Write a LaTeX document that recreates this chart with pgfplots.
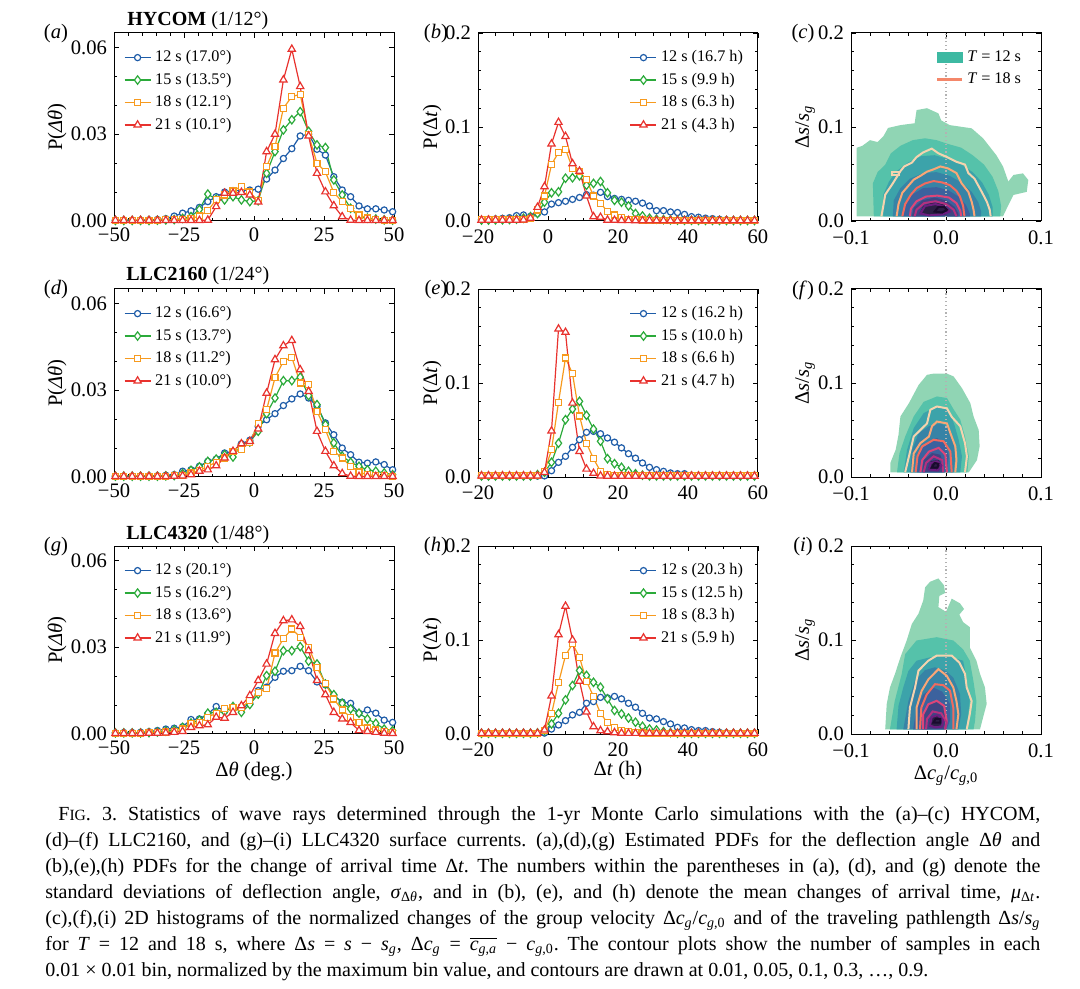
\documentclass[border=0pt]{standalone}
\usepackage{fontspec}
\setmainfont{Liberation Serif}
\usepackage{pgfplots}
\usepackage{pgfplotstable}
\pgfplotsset{compat=1.18}

\definecolor{cB}{HTML}{1E5CA8}
\definecolor{cG}{HTML}{2BAA3A}
\definecolor{cO}{HTML}{F79A1E}
\definecolor{cR}{HTML}{E8322E}
\definecolor{F1}{HTML}{90D5B4}
\definecolor{F2}{HTML}{55C2AA}
\definecolor{F3}{HTML}{3CA3AA}
\definecolor{F4}{HTML}{3783A6}
\definecolor{F5}{HTML}{3C629E}
\definecolor{F6}{HTML}{3F4583}
\definecolor{F7}{HTML}{2C1F45}
\definecolor{L1}{HTML}{F5D3AE}
\definecolor{L2}{HTML}{FAA676}
\definecolor{L3}{HTML}{F26A5E}
\definecolor{L4}{HTML}{DD4579}
\definecolor{L5}{HTML}{B4307F}
\definecolor{L6}{HTML}{6C1D80}
\definecolor{L7}{HTML}{1A0B2E}
\definecolor{cT}{HTML}{3DB9A2}
\definecolor{cS}{HTML}{F4876A}

% ---------------- data ----------------
\pgfplotstableread{
x b g o r
-49.5 0.0003 0.0002 0.0003 0.0002
-46.5 0.0003 0.0002 0.0003 0.0002
-43.5 0.0003 0.0002 0.0003 0.0002
-40.5 0.0003 0.0002 0.0003 0.0002
-37.5 0.0004 0.0002 0.0003 0.0002
-34.5 0.0005 0.0003 0.0003 0.0002
-31.5 0.0008 0.0004 0.0004 0.0002
-28.5 0.0017 0.0005 0.0005 0.0002
-25.5 0.0027 0.0009 0.0006 0.0002
-22.5 0.0035 0.0015 0.0008 0.0002
-19.5 0.0047 0.0040 0.0017 0.0002
-16.5 0.0067 0.0093 0.0036 0.0003
-13.5 0.0084 0.0075 0.0073 0.0050
-10.5 0.0100 0.0073 0.0090 0.0096
-7.5 0.0105 0.0084 0.0104 0.0096
-4.5 0.0105 0.0073 0.0120 0.0099
-1.5 0.0107 0.0067 0.0100 0.0090
1.5 0.0110 0.0070 0.0070 0.0066
4.5 0.0145 0.0165 0.0188 0.0240
7.5 0.0176 0.0240 0.0257 0.0300
10.5 0.0216 0.0315 0.0390 0.0488
13.5 0.0250 0.0350 0.0430 0.0594
16.5 0.0294 0.0378 0.0438 0.0465
19.5 0.0300 0.0310 0.0298 0.0294
22.5 0.0248 0.0263 0.0200 0.0165
25.5 0.0228 0.0254 0.0170 0.0101
28.5 0.0153 0.0142 0.0098 0.0053
31.5 0.0107 0.0090 0.0067 0.0015
34.5 0.0084 0.0044 0.0044 0.0003
37.5 0.0052 0.0015 0.0021 0.0002
40.5 0.0042 0.0010 0.0010 0.0002
43.5 0.0042 0.0007 0.0004 0.0002
46.5 0.0038 0.0004 0.0003 0.0002
49.5 0.0032 0.0003 0.0003 0.0002
}\tA

\pgfplotstableread{
x b g o r
-19 0.0015 0.0010 0.0012 0.0010
-17 0.0018 0.0010 0.0012 0.0010
-15 0.0022 0.0012 0.0013 0.0010
-13 0.0028 0.0013 0.0014 0.0010
-11 0.0035 0.0016 0.0015 0.0010
-9 0.0057 0.0020 0.0016 0.0010
-7 0.0064 0.0030 0.0020 0.0012
-5 0.0050 0.0046 0.0030 0.0030
-3 0.0080 0.0080 0.0117 0.0146
-1 0.0096 0.0200 0.0266 0.0366
1 0.0180 0.0300 0.0600 0.0820
3 0.0195 0.0310 0.0730 0.1050
5 0.0210 0.0455 0.0764 0.0900
7 0.0230 0.0460 0.0560 0.0610
9 0.0250 0.0480 0.0526 0.0530
11 0.0280 0.0380 0.0440 0.0266
13 0.0275 0.0400 0.0266 0.0046
15 0.0305 0.0420 0.0190 0.0040
17 0.0260 0.0300 0.0100 0.0010
19 0.0240 0.0220 0.0064 0.0008
21 0.0230 0.0200 0.0040 0.0006
23 0.0220 0.0160 0.0020 0.0005
25 0.0210 0.0080 0.0012 0.0004
27 0.0190 0.0053 0.0010 0.0004
29 0.0160 0.0030 0.0008 0.0004
31 0.0110 0.0020 0.0006 0.0004
33 0.0110 0.0015 0.0005 0.0004
35 0.0096 0.0012 0.0005 0.0004
37 0.0090 0.0010 0.0005 0.0004
39 0.0070 0.0008 0.0005 0.0004
41 0.0046 0.0008 0.0005 0.0004
43 0.0040 0.0007 0.0005 0.0004
45 0.0030 0.0007 0.0005 0.0004
47 0.0025 0.0007 0.0005 0.0004
49 0.0018 0.0007 0.0005 0.0004
51 0.0012 0.0006 0.0005 0.0004
53 0.0010 0.0006 0.0005 0.0004
55 0.0008 0.0006 0.0005 0.0004
57 0.0007 0.0006 0.0005 0.0004
59 0.0006 0.0006 0.0005 0.0004
}\tB

\pgfplotstableread{
x b g o r
-49.5 0.0003 0.0003 0.0003 0.0002
-46.5 0.0003 0.0003 0.0003 0.0002
-43.5 0.0003 0.0003 0.0003 0.0002
-40.5 0.0003 0.0003 0.0003 0.0002
-37.5 0.0004 0.0003 0.0003 0.0002
-34.5 0.0004 0.0003 0.0003 0.0002
-31.5 0.0006 0.0004 0.0003 0.0002
-28.5 0.0008 0.0005 0.0004 0.0003
-25.5 0.0020 0.0012 0.0006 0.0004
-22.5 0.0025 0.0023 0.0014 0.0008
-19.5 0.0037 0.0035 0.0022 0.0020
-16.5 0.0054 0.0054 0.0037 0.0025
-13.5 0.0062 0.0062 0.0051 0.0039
-10.5 0.0083 0.0077 0.0066 0.0066
-7.5 0.0089 0.0069 0.0089 0.0089
-4.5 0.0115 0.0112 0.0095 0.0115
-1.5 0.0127 0.0121 0.0120 0.0123
1.5 0.0175 0.0158 0.0185 0.0166
4.5 0.0198 0.0219 0.0233 0.0290
7.5 0.0219 0.0273 0.0343 0.0406
10.5 0.0247 0.0333 0.0400 0.0454
13.5 0.0270 0.0333 0.0414 0.0472
16.5 0.0287 0.0345 0.0325 0.0371
19.5 0.0273 0.0281 0.0320 0.0296
22.5 0.0245 0.0250 0.0227 0.0158
25.5 0.0187 0.0181 0.0164 0.0089
28.5 0.0146 0.0118 0.0089 0.0039
31.5 0.0100 0.0072 0.0066 0.0012
34.5 0.0077 0.0051 0.0037 0.0003
37.5 0.0051 0.0037 0.0017 0.0002
40.5 0.0048 0.0025 0.0008 0.0002
43.5 0.0052 0.0020 0.0005 0.0002
46.5 0.0043 0.0014 0.0005 0.0002
49.5 0.0025 0.0008 0.0003 0.0002
}\tD

\pgfplotstableread{
x b g o r
-19 0.0010 0.0012 0.0012 0.0012
-17 0.0010 0.0012 0.0012 0.0012
-15 0.0010 0.0012 0.0012 0.0012
-13 0.0010 0.0012 0.0012 0.0012
-11 0.0010 0.0012 0.0012 0.0012
-9 0.0010 0.0012 0.0012 0.0012
-7 0.0010 0.0012 0.0012 0.0012
-5 0.0010 0.0012 0.0012 0.0012
-3 0.0010 0.0025 0.0015 0.0012
-1 0.0012 0.0050 0.0057 0.0050
1 0.0067 0.0156 0.0290 0.0490
3 0.0156 0.0360 0.0794 0.1575
5 0.0220 0.0610 0.1266 0.1540
7 0.0316 0.0723 0.1100 0.0787
9 0.0397 0.0805 0.0650 0.0273
11 0.0475 0.0656 0.0360 0.0085
13 0.0486 0.0510 0.0195 0.0040
15 0.0460 0.0380 0.0060 0.0012
17 0.0415 0.0195 0.0025 0.0010
19 0.0370 0.0142 0.0015 0.0010
21 0.0310 0.0103 0.0012 0.0010
23 0.0248 0.0060 0.0012 0.0010
25 0.0200 0.0035 0.0012 0.0010
27 0.0149 0.0020 0.0012 0.0010
29 0.0103 0.0012 0.0012 0.0010
31 0.0078 0.0012 0.0012 0.0010
33 0.0060 0.0012 0.0012 0.0010
35 0.0043 0.0012 0.0012 0.0010
37 0.0035 0.0012 0.0012 0.0010
39 0.0035 0.0012 0.0012 0.0010
41 0.0018 0.0012 0.0012 0.0010
43 0.0015 0.0012 0.0012 0.0010
45 0.0013 0.0012 0.0012 0.0010
47 0.0012 0.0012 0.0012 0.0010
49 0.0012 0.0012 0.0012 0.0010
51 0.0012 0.0012 0.0012 0.0010
53 0.0012 0.0012 0.0012 0.0010
55 0.0012 0.0012 0.0012 0.0010
57 0.0012 0.0012 0.0012 0.0010
59 0.0012 0.0012 0.0012 0.0010
}\tE

\pgfplotstableread{
x b g o r
-49.5 0.0004 0.0004 0.0003 0.0002
-46.5 0.0005 0.0004 0.0003 0.0002
-43.5 0.0005 0.0004 0.0003 0.0002
-40.5 0.0006 0.0004 0.0003 0.0002
-37.5 0.0008 0.0005 0.0004 0.0003
-34.5 0.0012 0.0007 0.0005 0.0003
-31.5 0.0017 0.0010 0.0007 0.0004
-28.5 0.0020 0.0014 0.0010 0.0006
-25.5 0.0025 0.0023 0.0017 0.0009
-22.5 0.0050 0.0038 0.0035 0.0023
-19.5 0.0052 0.0048 0.0040 0.0029
-16.5 0.0069 0.0072 0.0058 0.0032
-13.5 0.0095 0.0075 0.0072 0.0058
-10.5 0.0080 0.0077 0.0087 0.0055
-7.5 0.0092 0.0095 0.0092 0.0075
-4.5 0.0087 0.0075 0.0092 0.0098
-1.5 0.0106 0.0102 0.0115 0.0133
1.5 0.0150 0.0138 0.0144 0.0185
4.5 0.0162 0.0202 0.0156 0.0242
7.5 0.0196 0.0217 0.0280 0.0348
10.5 0.0217 0.0288 0.0330 0.0392
13.5 0.0219 0.0288 0.0363 0.0395
16.5 0.0234 0.0302 0.0335 0.0372
19.5 0.0219 0.0252 0.0300 0.0288
22.5 0.0180 0.0242 0.0230 0.0185
25.5 0.0170 0.0173 0.0175 0.0136
28.5 0.0133 0.0136 0.0121 0.0075
31.5 0.0110 0.0106 0.0083 0.0052
34.5 0.0106 0.0087 0.0058 0.0040
37.5 0.0072 0.0072 0.0040 0.0012
40.5 0.0083 0.0052 0.0021 0.0009
43.5 0.0072 0.0037 0.0014 0.0006
46.5 0.0048 0.0017 0.0009 0.0003
49.5 0.0040 0.0012 0.0006 0.0002
}\tG

\pgfplotstableread{
x b g o r
-19 0.0008 0.0008 0.0008 0.0008
-17 0.0008 0.0008 0.0008 0.0008
-15 0.0008 0.0008 0.0008 0.0008
-13 0.0008 0.0008 0.0008 0.0008
-11 0.0008 0.0008 0.0008 0.0008
-9 0.0008 0.0008 0.0008 0.0008
-7 0.0008 0.0008 0.0008 0.0008
-5 0.0008 0.0008 0.0008 0.0008
-3 0.0008 0.0012 0.0008 0.0008
-1 0.0010 0.0036 0.0036 0.0043
1 0.0053 0.0107 0.0214 0.0406
3 0.0096 0.0220 0.0544 0.1057
5 0.0142 0.0363 0.0836 0.1360
7 0.0203 0.0516 0.0960 0.1000
9 0.0230 0.0676 0.0818 0.0562
11 0.0327 0.0623 0.0562 0.0235
13 0.0345 0.0550 0.0400 0.0078
15 0.0390 0.0498 0.0220 0.0036
17 0.0384 0.0374 0.0120 0.0025
19 0.0400 0.0250 0.0071 0.0015
21 0.0374 0.0214 0.0036 0.0010
23 0.0327 0.0170 0.0025 0.0008
25 0.0285 0.0125 0.0012 0.0008
27 0.0220 0.0082 0.0010 0.0008
29 0.0170 0.0053 0.0008 0.0008
31 0.0160 0.0043 0.0008 0.0008
33 0.0132 0.0025 0.0008 0.0008
35 0.0107 0.0015 0.0008 0.0008
37 0.0071 0.0010 0.0008 0.0008
39 0.0064 0.0008 0.0008 0.0008
41 0.0046 0.0008 0.0008 0.0008
43 0.0036 0.0008 0.0008 0.0008
45 0.0036 0.0008 0.0008 0.0008
47 0.0025 0.0008 0.0008 0.0008
49 0.0018 0.0008 0.0008 0.0008
51 0.0012 0.0008 0.0008 0.0008
53 0.0008 0.0008 0.0008 0.0008
55 0.0008 0.0008 0.0008 0.0008
57 0.0008 0.0008 0.0008 0.0008
59 0.0008 0.0008 0.0008 0.0008
}\tH

% ---------------- styles ----------------
\pgfplotsset{
  base/.style={scale only axis, anchor=north west,
    scaled x ticks=false, scaled y ticks=false,
    axis line style={line width=0.5pt},
    every tick/.style={black, line width=0.4pt},
    major tick length=2.6pt, minor tick length=1.4pt,
    tick align=inside,
    tick label style={font=\fontsize{10.3}{12}\selectfont},
    label style={font=\fontsize{10.3}{12}\selectfont},
  },
  leg/.style={legend cell align=left,
    legend style={draw=none, fill=none, font=\fontsize{8.1}{9}\selectfont,
      inner sep=0pt, outer sep=0pt, row sep=0pt,
      nodes={inner ysep=2.05pt, inner xsep=2pt}},
    legend image code/.code={\draw[mark repeat=2,mark phase=2,##1] plot coordinates {(0pt,0pt) (6.5pt,0pt) (13pt,0pt)};},
  },
  pdfA/.style={base, leg, width=140pt, height=94pt,
    xmin=-50, xmax=50, ymin=0, ymax=0.065,
    xtick={-50,-25,0,25,50}, xticklabels={−50,−25,0,25,50},
    ytick={0,0.03,0.06}, yticklabels={0.00,0.03,0.06},
    minor x tick num=4, minor y tick num=2,
    ylabel={P(\textit{Δθ})},
    ylabel style={at={(axis description cs:-0.2036,0.5)}, anchor=center},
    legend style={at={(axis description cs:0,1)}, anchor=north west, xshift=5pt, yshift=-6.7pt},
  },
  pdfB/.style={base, leg, width=140pt, height=94pt,
    xmin=-20, xmax=60, ymin=0, ymax=0.2,
    xtick={-20,0,20,40,60}, xticklabels={−20,0,20,40,60},
    xticklabel style={yshift=-1pt},
    ytick={0,0.1,0.2}, yticklabels={0.0,0.1,0.2},
    minor x tick num=3, minor y tick num=4,
    ylabel={P(Δ\textit{t})},
    ylabel style={at={(axis description cs:-0.164,0.5)}, anchor=center},
    legend style={at={(axis description cs:1,1)}, anchor=north east, xshift=-5.5pt, yshift=-6.7pt},
  },
  hist/.style={base, leg, width=95pt, height=94pt,
    xmin=-0.1, xmax=0.1, ymin=0, ymax=0.2,
    xtick={-0.1,0,0.1}, xticklabels={−0.1,0.0,0.1},
    xticklabel style={yshift=-1.6pt},
    ytick={0,0.1,0.2}, yticklabels={0.0,0.1,0.2},
    minor x tick num=4, minor y tick num=4,
    ylabel={Δ\textit{s}/\textit{s}\textsubscript{\textit{g}}},
    ylabel style={at={(axis description cs:-0.242,0.5)}, anchor=center},
    legend style={at={(axis description cs:1,1)}, anchor=north east, xshift=-8pt, yshift=-6.7pt},
  },
  s12/.style={cB, line width=0.6pt, mark=*, mark size=1.55pt, mark options={fill=white, line width=0.6pt, solid}},
  s15/.style={cG, line width=0.6pt, mark=diamond*, mark size=2.1pt, mark options={fill=white, line width=0.6pt, solid}},
  s18/.style={cO, line width=0.6pt, mark=square*, mark size=1.5pt, mark options={fill=white, line width=0.6pt, solid}},
  s21/.style={cR, line width=0.6pt, mark=triangle*, mark size=2.1pt, mark options={fill=white, line width=0.6pt, solid}},
  fl/.style={forget plot, fill=#1, draw=none},
  cl/.style={forget plot, #1, line width=1.0pt},
  zl/.style={forget plot, black!30, line width=0.6pt, dash pattern=on 0.6pt off 1.3pt},
}

\newcommand{\histlegend}{%
  \addlegendimage{legend image code/.code={\fill[cT] (0pt,-2.6pt) rectangle (12.5pt,2.6pt);}}
  \addlegendentry{\textit{T} = 12 s}
  \addlegendimage{legend image code/.code={\draw[cS, line width=1.2pt] (0pt,0pt) -- (12.5pt,0pt);}}
  \addlegendentry{\textit{T} = 18 s}
}

\begin{document}
\begin{tikzpicture}
\path[use as bounding box] (0pt,0pt) rectangle (540pt,-494.5pt);

% ===== row 1 =====
\begin{axis}[pdfA, at={(57pt,-16.5pt)}]
\addplot[s12] table[x=x,y=b]{\tA}; \addlegendentry{12 s (17.0°)}
\addplot[s15] table[x=x,y=g]{\tA}; \addlegendentry{15 s (13.5°)}
\addplot[s18] table[x=x,y=o]{\tA}; \addlegendentry{18 s (12.1°)}
\addplot[s21] table[x=x,y=r]{\tA}; \addlegendentry{21 s (10.1°)}
\end{axis}

\begin{axis}[pdfB, at={(239pt,-16.5pt)}]
\addplot[s12] table[x=x,y=b]{\tB}; \addlegendentry{12 s (16.7 h)}
\addplot[s15] table[x=x,y=g]{\tB}; \addlegendentry{15 s (9.9 h)}
\addplot[s18] table[x=x,y=o]{\tB}; \addlegendentry{18 s (6.3 h)}
\addplot[s21] table[x=x,y=r]{\tB}; \addlegendentry{21 s (4.3 h)}
\end{axis}

\begin{axis}[hist, at={(425.5pt,-16.5pt)}]
\histlegend
\addplot[fl=F1] coordinates {(-0.094,0.005) (-0.094,0.078) (-0.088,0.080) (-0.080,0.086) (-0.072,0.084) (-0.066,0.090) (-0.061,0.099) (-0.048,0.102) (-0.033,0.104) (-0.031,0.118) (-0.020,0.120) (-0.008,0.1145) (-0.005,0.107) (0.004,0.102) (0.027,0.0986) (0.039,0.088) (0.053,0.070) (0.060,0.058) (0.0656,0.042) (0.071,0.049) (0.081,0.0507) (0.0866,0.0436) (0.085,0.031) (0.071,0.0277) (0.064,0.0135) (0.060,0.005)} -- cycle;
\addplot[fl=F2] coordinates {(-0.076,0.005) (-0.077,0.040) (-0.072,0.052) (-0.064,0.060) (-0.058,0.072) (-0.048,0.080) (-0.035,0.086) (-0.022,0.088) (-0.010,0.086) (0.002,0.082) (0.016,0.078) (0.028,0.070) (0.040,0.060) (0.049,0.047) (0.055,0.032) (0.058,0.016) (0.057,0.005)} -- cycle;
\addplot[fl=F3] coordinates {(-0.066,0.005) (-0.066,0.028) (-0.060,0.042) (-0.052,0.053) (-0.040,0.062) (-0.026,0.069) (-0.012,0.070) (0.002,0.066) (0.016,0.060) (0.028,0.052) (0.038,0.041) (0.045,0.028) (0.049,0.015) (0.049,0.005)} -- cycle;
\addplot[fl=F4] coordinates {(-0.056,0.005) (-0.055,0.022) (-0.048,0.035) (-0.038,0.045) (-0.024,0.051) (-0.010,0.052) (0.004,0.048) (0.016,0.041) (0.027,0.031) (0.034,0.020) (0.037,0.010) (0.037,0.005)} -- cycle;
\addplot[fl=F5] coordinates {(-0.046,0.005) (-0.044,0.017) (-0.036,0.028) (-0.024,0.035) (-0.010,0.036) (0.002,0.033) (0.013,0.026) (0.021,0.017) (0.025,0.008) (0.025,0.005)} -- cycle;
\addplot[fl=F6] coordinates {(-0.036,0.005) (-0.034,0.014) (-0.025,0.022) (-0.012,0.025) (0.000,0.022) (0.009,0.015) (0.013,0.008) (0.013,0.005)} -- cycle;
\addplot[fl=F7] coordinates {(-0.028,0.008) (-0.024,0.016) (-0.014,0.020) (-0.003,0.018) (0.003,0.012) (0.000,0.007) (-0.014,0.006)} -- cycle;
\addplot[zl] coordinates {(0,0) (0,0.2)};
\addplot[cl=L1] coordinates {(-0.068,0.005) (-0.066,0.016) (-0.064,0.028) (-0.056,0.040) (-0.048,0.053) (-0.044,0.058) (-0.036,0.062) (-0.031,0.068) (-0.024,0.073) (-0.015,0.077) (-0.008,0.072) (0.001,0.068) (0.011,0.063) (0.020,0.060) (0.0235,0.051) (0.030,0.045) (0.0376,0.031) (0.043,0.0205) (0.046,0.012) (0.047,0.005)};
\addplot[cl=L1] coordinates {(-0.057,0.049) (-0.049,0.049) (-0.049,0.052) (-0.057,0.052)} -- cycle;
\addplot[cl=L2] coordinates {(-0.052,0.005) (-0.050,0.018) (-0.046,0.030) (-0.040,0.037) (-0.034,0.044) (-0.027,0.048) (-0.020,0.0525) (-0.013,0.055) (-0.006,0.058) (0.002,0.056) (0.011,0.051) (0.0165,0.040) (0.0235,0.031) (0.027,0.0205) (0.029,0.012) (0.030,0.005)};
\addplot[cl=L3] coordinates {(-0.046,0.005) (-0.043,0.018) (-0.037,0.028) (-0.031,0.035) (-0.022,0.040) (-0.013,0.0425) (-0.004,0.041) (0.0042,0.038) (0.011,0.032) (0.0147,0.026) (0.018,0.016) (0.0194,0.005)};
\addplot[cl=L4] coordinates {(-0.038,0.005) (-0.037,0.013) (-0.031,0.021) (-0.021,0.026) (-0.009,0.027) (0.003,0.025) (0.011,0.019) (0.015,0.011) (0.016,0.005)};
\addplot[cl=L5] coordinates {(-0.033,0.005) (-0.031,0.012) (-0.023,0.019) (-0.011,0.021) (0.000,0.018) (0.008,0.012) (0.011,0.005)};
\addplot[cl=L6] coordinates {(-0.027,0.008) (-0.022,0.016) (-0.011,0.018) (-0.001,0.015) (0.004,0.010) (-0.004,0.007) (-0.018,0.006)} -- cycle;
\addplot[cl=L7] coordinates {(-0.012,0.010) (-0.008,0.015) (-0.002,0.015) (0.001,0.012) (-0.004,0.009)} -- cycle;
\end{axis}

% ===== row 2 =====
\begin{axis}[pdfA, at={(57pt,-144.5pt)}]
\addplot[s12] table[x=x,y=b]{\tD}; \addlegendentry{12 s (16.6°)}
\addplot[s15] table[x=x,y=g]{\tD}; \addlegendentry{15 s (13.7°)}
\addplot[s18] table[x=x,y=o]{\tD}; \addlegendentry{18 s (11.2°)}
\addplot[s21] table[x=x,y=r]{\tD}; \addlegendentry{21 s (10.0°)}
\end{axis}

\begin{axis}[pdfB, at={(239pt,-144.5pt)}]
\addplot[s12] table[x=x,y=b]{\tE}; \addlegendentry{12 s (16.2 h)}
\addplot[s15] table[x=x,y=g]{\tE}; \addlegendentry{15 s (10.0 h)}
\addplot[s18] table[x=x,y=o]{\tE}; \addlegendentry{18 s (6.6 h)}
\addplot[s21] table[x=x,y=r]{\tE}; \addlegendentry{21 s (4.7 h)}
\end{axis}

\begin{axis}[hist, at={(425.5pt,-144.5pt)}]
\addplot[fl=F1] coordinates {(-0.0586,0.005) (-0.0586,0.015) (-0.053,0.029) (-0.050,0.045) (-0.048,0.0644) (-0.039,0.0786) (-0.0288,0.098) (-0.020,0.1087) (-0.013,0.110) (0.001,0.110) (0.008,0.107) (0.0168,0.0945) (0.0256,0.0786) (0.029,0.0644) (0.0344,0.050) (0.0354,0.0326) (0.0326,0.018) (0.024,0.005)} -- cycle;
\addplot[fl=F2] coordinates {(-0.0516,0.005) (-0.049,0.025) (-0.043,0.043) (-0.034,0.0644) (-0.0235,0.080) (-0.0095,0.0857) (0.001,0.084) (0.008,0.072) (0.015,0.061) (0.020,0.043) (0.024,0.022) (0.0225,0.005)} -- cycle;
\addplot[fl=F3] coordinates {(-0.0446,0.005) (-0.041,0.029) (-0.034,0.052) (-0.0235,0.068) (-0.0095,0.075) (0.003,0.0715) (0.009,0.055) (0.0133,0.0396) (0.0168,0.022) (0.015,0.005)} -- cycle;
\addplot[fl=F4] coordinates {(-0.0375,0.005) (-0.036,0.028) (-0.0288,0.0467) (-0.018,0.054) (-0.006,0.057) (0.003,0.053) (0.008,0.0396) (0.0098,0.022) (0.008,0.005)} -- cycle;
\addplot[fl=F5] coordinates {(-0.0305,0.005) (-0.029,0.0255) (-0.020,0.036) (-0.0095,0.0414) (-0.0007,0.036) (0.003,0.022) (0.001,0.005)} -- cycle;
\addplot[fl=F6] coordinates {(-0.025,0.005) (-0.0235,0.018) (-0.0147,0.0255) (-0.006,0.0237) (-0.0025,0.013) (-0.004,0.005)} -- cycle;
\addplot[fl=F7] coordinates {(-0.019,0.008) (-0.016,0.017) (-0.008,0.018) (-0.004,0.012) (-0.008,0.007)} -- cycle;
\addplot[zl] coordinates {(0,0) (0,0.2)};
\addplot[cl=L1] coordinates {(-0.043,0.005) (-0.039,0.022) (-0.034,0.043) (-0.027,0.050) (-0.020,0.057) (-0.0165,0.0715) (-0.0095,0.075) (0.001,0.073) (0.006,0.064) (0.015,0.054) (0.020,0.036) (0.022,0.022) (0.020,0.005)};
\addplot[cl=L2] coordinates {(-0.0358,0.005) (-0.034,0.025) (-0.027,0.036) (-0.018,0.043) (-0.0147,0.054) (-0.0095,0.059) (0.001,0.057) (0.0046,0.0467) (0.0098,0.0326) (0.011,0.018) (0.0098,0.005)};
\addplot[cl=L3] coordinates {(-0.032,0.005) (-0.030,0.022) (-0.025,0.0326) (-0.013,0.0396) (-0.0025,0.038) (0.0046,0.027) (0.006,0.005)};
\addplot[cl=L4] coordinates {(-0.027,0.005) (-0.025,0.018) (-0.018,0.027) (-0.0077,0.031) (-0.0007,0.0237) (0.001,0.005)};
\addplot[cl=L5] coordinates {(-0.0235,0.005) (-0.021,0.015) (-0.013,0.022) (-0.004,0.018) (-0.003,0.005)};
\addplot[cl=L6] coordinates {(-0.018,0.008) (-0.016,0.015) (-0.009,0.0166) (-0.005,0.012) (-0.009,0.007)} -- cycle;
\addplot[cl=L7] coordinates {(-0.015,0.010) (-0.012,0.015) (-0.008,0.014) (-0.009,0.010)} -- cycle;
\end{axis}

% ===== row 3 =====
\begin{axis}[pdfA, at={(57pt,-273pt)}, xlabel={Δ\textit{θ} (deg.)},
  xlabel style={at={(axis description cs:0.5,-0.197)}, anchor=center}]
\addplot[s12] table[x=x,y=b]{\tG}; \addlegendentry{12 s (20.1°)}
\addplot[s15] table[x=x,y=g]{\tG}; \addlegendentry{15 s (16.2°)}
\addplot[s18] table[x=x,y=o]{\tG}; \addlegendentry{18 s (13.6°)}
\addplot[s21] table[x=x,y=r]{\tG}; \addlegendentry{21 s (11.9°)}
\end{axis}

\begin{axis}[pdfB, at={(239pt,-273pt)}, xlabel={Δ\textit{t} (h)},
  xlabel style={at={(axis description cs:0.5,-0.197)}, anchor=center}]
\addplot[s12] table[x=x,y=b]{\tH}; \addlegendentry{12 s (20.3 h)}
\addplot[s15] table[x=x,y=g]{\tH}; \addlegendentry{15 s (12.5 h)}
\addplot[s18] table[x=x,y=o]{\tH}; \addlegendentry{18 s (8.3 h)}
\addplot[s21] table[x=x,y=r]{\tH}; \addlegendentry{21 s (5.9 h)}
\end{axis}

\begin{axis}[hist, at={(425.5pt,-273pt)},
  xlabel={Δ\textit{c}\textsubscript{\textit{g}}/\textit{c}\textsubscript{\textit{g},0}},
  xlabel style={at={(axis description cs:0.5,-0.222)}, anchor=center}]
\addplot[fl=F1] coordinates {(-0.064,0.005) (-0.0624,0.032) (-0.059,0.0495) (-0.0537,0.064) (-0.048,0.0816) (-0.0414,0.0995) (-0.036,0.117) (-0.029,0.128) (-0.024,0.142) (-0.022,0.156) (-0.0168,0.162) (-0.008,0.1655) (-0.002,0.158) (-0.001,0.150) (-0.007,0.147) (-0.008,0.135) (0.000,0.130) (0.006,0.144) (0.0147,0.139) (0.019,0.133) (0.014,0.127) (0.018,0.119) (0.025,0.1137) (0.025,0.092) (0.032,0.078) (0.0358,0.064) (0.041,0.0495) (0.0428,0.032) (0.039,0.0175) (0.0358,0.005)} -- cycle;
\addplot[fl=F2] coordinates {(-0.059,0.005) (-0.054,0.035) (-0.0466,0.064) (-0.043,0.085) (-0.031,0.0995) (-0.0098,0.103) (0.0077,0.0995) (0.018,0.090) (0.025,0.078) (0.0288,0.0567) (0.032,0.035) (0.0306,0.0143) (0.029,0.005)} -- cycle;
\addplot[fl=F3] coordinates {(-0.052,0.005) (-0.050,0.030) (-0.045,0.0495) (-0.0396,0.067) (-0.031,0.078) (-0.0168,0.0816) (0.0007,0.083) (0.018,0.078) (0.0214,0.060) (0.025,0.035) (0.0214,0.005)} -- cycle;
\addplot[fl=F4] coordinates {(-0.045,0.005) (-0.0396,0.035) (-0.0326,0.0567) (-0.022,0.068) (-0.0116,0.071) (0.000,0.067) (0.0077,0.060) (0.0147,0.0424) (0.016,0.021) (0.013,0.005)} -- cycle;
\addplot[fl=F5] coordinates {(-0.0345,0.005) (-0.031,0.028) (-0.024,0.042) (-0.0133,0.0495) (-0.004,0.045) (0.0042,0.032) (0.0042,0.0143) (0.0007,0.005)} -- cycle;
\addplot[fl=F6] coordinates {(-0.026,0.005) (-0.024,0.022) (-0.016,0.034) (-0.008,0.035) (-0.001,0.026) (0.0007,0.012) (-0.002,0.005)} -- cycle;
\addplot[fl=F7] coordinates {(-0.018,0.008) (-0.016,0.017) (-0.010,0.020) (-0.005,0.016) (-0.005,0.009)} -- cycle;
\addplot[zl] coordinates {(0,0) (0,0.2)};
\addplot[cl=L1] coordinates {(-0.0396,0.005) (-0.038,0.028) (-0.0326,0.0495) (-0.029,0.0674) (-0.0186,0.078) (-0.0098,0.0834) (0.006,0.0834) (0.014,0.076) (0.020,0.064) (0.0218,0.0495) (0.027,0.035) (0.025,0.021) (0.0218,0.005)};
\addplot[cl=L2] coordinates {(-0.031,0.005) (-0.031,0.028) (-0.0256,0.046) (-0.0186,0.058) (-0.008,0.069) (0.0007,0.062) (0.0077,0.0495) (0.011,0.035) (0.013,0.021) (0.011,0.005)};
\addplot[cl=L3] coordinates {(-0.0274,0.005) (-0.026,0.028) (-0.0203,0.042) (-0.0116,0.053) (-0.003,0.052) (0.0042,0.046) (0.0077,0.028) (0.0077,0.005)};
\addplot[cl=L4] coordinates {(-0.024,0.005) (-0.024,0.021) (-0.0186,0.0317) (-0.0098,0.0353) (-0.002,0.030) (0.0007,0.014) (-0.001,0.005)};
\addplot[cl=L5] coordinates {(-0.021,0.005) (-0.020,0.016) (-0.014,0.024) (-0.005,0.022) (0.0007,0.012) (-0.001,0.005)};
\addplot[cl=L6] coordinates {(-0.017,0.009) (-0.015,0.018) (-0.009,0.020) (-0.003,0.015) (-0.004,0.008) (-0.011,0.007)} -- cycle;
\addplot[cl=L7] coordinates {(-0.0133,0.012) (-0.011,0.016) (-0.006,0.016) (-0.006,0.012)} -- cycle;
\end{axis}

% ===== titles and panel labels =====
\begin{scope}[every node/.style={inner sep=0pt, font=\fontsize{10}{12}\selectfont}]
\node[anchor=base west] at (63.5pt,-13pt) {\textbf{HYCOM} (1/12°)};
\node[anchor=base west] at (63pt,-140.5pt) {\textbf{LLC2160} (1/24°)};
\node[anchor=base west] at (63pt,-269.5pt) {\textbf{LLC4320} (1/48°)};
\end{scope}
\begin{scope}[every node/.style={inner sep=0pt, font=\fontsize{10.3}{12}\selectfont}]
\node at (28pt,-17pt) {(\textit{a})};
\node at (218pt,-17pt) {(\textit{b})};
\node at (401.5pt,-17pt) {(\textit{c})};
\node at (28pt,-145pt) {(\textit{d})};
\node at (218pt,-145pt) {(\textit{e})};
\node at (401.5pt,-145pt) {(\textit{f})};
\node at (28pt,-273.5pt) {(\textit{g})};
\node at (218pt,-273.5pt) {(\textit{h})};
\node at (401.5pt,-273.5pt) {(\textit{i})};
\end{scope}

% ===== caption =====
\node[anchor=north west, inner sep=0pt, text width=497.5pt, align=justify,
  font=\fontsize{10}{13}\selectfont] at (22.5pt,-403pt) {\frenchspacing\hyphenpenalty=10000\relax
\hspace*{6.5pt}F{\fontsize{7.8}{13}\selectfont IG}. 3. Statistics of wave rays determined through the 1-yr Monte Carlo simulations with the (a)–(c) HYCOM,\linebreak
(d)–(f) LLC2160, and (g)–(i) LLC4320 surface currents. (a),(d),(g) Estimated PDFs for the deflection angle Δ\textit{θ} and\linebreak
(b),(e),(h) PDFs for the change of arrival time Δ\textit{t}. The numbers within the parentheses in (a), (d), and (g) denote the\linebreak
standard deviations of deflection angle, \textit{σ}\textsubscript{Δ\textit{θ}}, and in (b), (e), and (h) denote the mean changes of arrival time, \textit{μ}\textsubscript{Δ\textit{t}}.\linebreak
(c),(f),(i) 2D histograms of the normalized changes of the group velocity Δ\textit{c}\textsubscript{\textit{g}}/\textit{c}\textsubscript{\textit{g},0} and of the traveling pathlength Δ\textit{s}/\textit{s}\textsubscript{\textit{g}}\linebreak
for \textit{T} = 12 and 18 s, where Δ\textit{s} = \textit{s} − \textit{s}\textsubscript{\textit{g}}, Δ\textit{c}\textsubscript{\textit{g}} = $\overline{\mbox{\textit{c}\textsubscript{\textit{g},\textit{a}}}}$ − \textit{c}\textsubscript{\textit{g},0}. The contour plots show the number of samples in each\linebreak
0.01 × 0.01 bin, normalized by the maximum bin value, and contours are drawn at 0.01, 0.05, 0.1, 0.3, …, 0.9.\par};
\end{tikzpicture}
\end{document}
